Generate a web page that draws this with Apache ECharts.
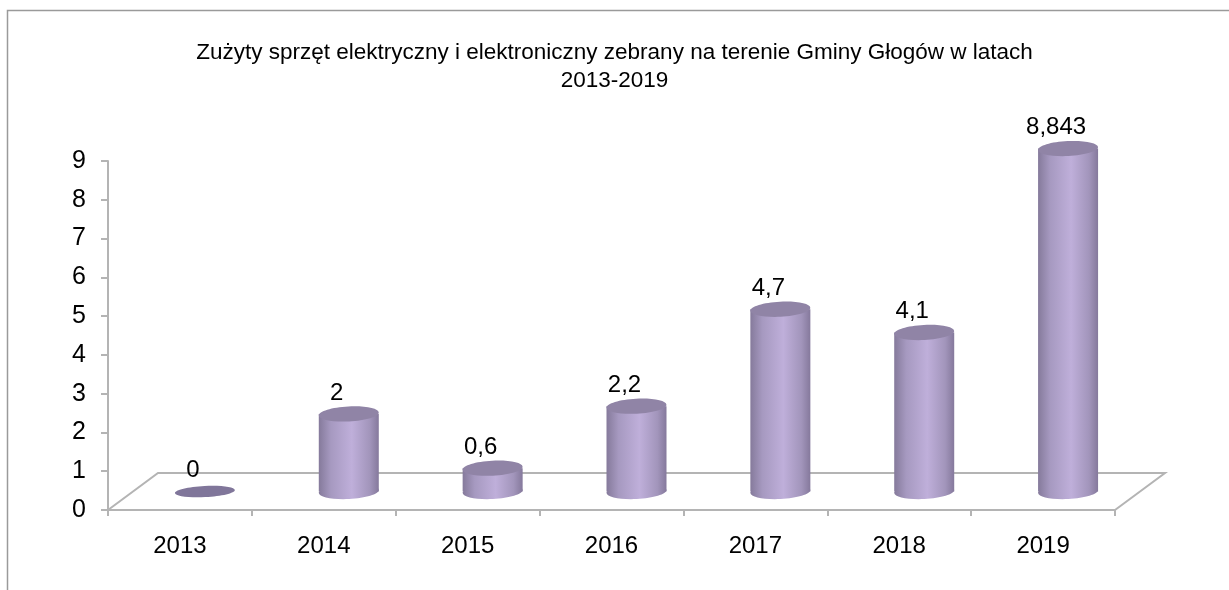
<!DOCTYPE html>
<html>
<head>
<meta charset="utf-8">
<script src="https://cdn.jsdelivr.net/npm/echarts@6/dist/echarts.min.js"></script>
<style>
  html, body { margin: 0; padding: 0; background: #fff; }
  #main { width: 1229px; height: 590px; }
</style>
</head>
<body>
<div id="main"></div>
<script>
// dane
const years = ['2013', '2014', '2015', '2016', '2017', '2018', '2019']
const values = [0, 2, 0.6, 2.2, 4.7, 4.1, 8.843]
const yTicks = { min: 0, max: 9, interval: 1 }

const labelFont = '"Liberation Sans", Arial, sans-serif'
const depthX = 50   // przesuniecie "glebokosci" podlogi
const depthY = -37

const chartBox = echarts.init(document.getElementById('main'))

// cylinder 3D
const renderCylinder = function (params, api) {
  const idx = api.value(0)
  const val = api.value(1)
  const base = api.coord([idx, 0])
  const top = api.coord([idx, val])
  const cx = base[0] + depthX / 2
  const by = base[1] + depthY / 2
  const ty = top[1] + depthY / 2
  const rx = 30
  const ry = 7.5
  const tilt = 0.05
  const children = []
  const bodyFill = new echarts.graphic.LinearGradient(0, 0, 1, 0, [
    { offset: 0, color: '#857a9b' },
    { offset: 0.2, color: '#a699c0' },
    { offset: 0.55, color: '#bfafda' },
    { offset: 0.85, color: '#a295bb' },
    { offset: 1, color: '#85799c' }
  ])
  if (val > 0) {
    children.push({
      type: 'ellipse',
      shape: { cx: cx, cy: by, rx: rx, ry: ry },
      rotation: tilt, originX: cx, originY: by,
      style: { fill: bodyFill }
    })
    children.push({
      type: 'rect',
      shape: { x: cx - rx, y: ty, width: rx * 2, height: by - ty },
      style: { fill: bodyFill }
    })
    children.push({
      type: 'ellipse',
      shape: { cx: cx, cy: ty, rx: rx, ry: ry },
      rotation: tilt, originX: cx, originY: ty,
      style: { fill: '#9084a6' }
    })
  } else {
    children.push({
      type: 'ellipse',
      shape: { cx: cx, cy: by, rx: rx, ry: ry * 0.75 },
      rotation: tilt, originX: cx, originY: by,
      style: { fill: '#80769a' }
    })
  }
  children.push({
    type: 'text',
    style: {
      x: cx - 12,
      y: ty - 21,
      text: String(val).replace('.', ','),
      align: 'center',
      verticalAlign: 'middle',
      fontFamily: labelFont,
      fontSize: 24,
      fill: '#000'
    }
  })
  return { type: 'group', children: children }
}

// podloga (rownoleglobok)
const renderFloor = function (params, api) {
  const c0 = api.coord([0, 0])
  const band = api.size([1, 0])[0]
  const x0 = c0[0] - band / 2
  const x1 = x0 + band * years.length
  const y0 = c0[1]
  return {
    type: 'polyline',
    shape: {
      points: [
        [x0, y0],
        [x0 + depthX, y0 + depthY],
        [x1 + depthX, y0 + depthY],
        [x1, y0]
      ]
    },
    style: { stroke: '#b4b4b4', lineWidth: 2, fill: null }
  }
}

const option = {
  animation: false,
  backgroundColor: '#fff',
  title: {
    text: 'Zużyty sprzęt elektryczny i elektroniczny zebrany na terenie Gminy Głogów w latach\n2013-2019',
    left: 'center',
    top: 34,
    textStyle: {
      fontFamily: '"Liberation Sans", Arial, sans-serif',
      fontSize: 22.5,
      fontWeight: 'normal',
      color: '#000',
      lineHeight: 28
    }
  },
  graphic: [
    {
      type: 'rect',
      shape: { x: 7.5, y: 10.5, width: 1300, height: 700 },
      style: { fill: null, stroke: '#9a9a9a', lineWidth: 1.5 },
      silent: true
    }
  ],
  grid: {
    left: 108,
    right: 114,
    top: 161,
    bottom: 80
  },
  xAxis: {
    type: 'category',
    data: years,
    axisLine: { show: true, lineStyle: { color: '#b4b4b4', width: 2 } },
    axisTick: { show: true, length: 6, lineStyle: { color: '#b4b4b4', width: 2 } },
    axisLabel: {
      color: '#000',
      fontFamily: labelFont,
      fontSize: 24,
      margin: 24
    }
  },
  yAxis: {
    type: 'value',
    min: yTicks.min,
    max: yTicks.max,
    interval: yTicks.interval,
    splitLine: { show: false },
    axisLine: { show: true, lineStyle: { color: '#b4b4b4', width: 2 } },
    axisTick: { show: true, length: 7, lineStyle: { color: '#b4b4b4', width: 2 } },
    axisLabel: {
      color: '#000',
      fontFamily: labelFont,
      fontSize: 25,
      margin: 22
    }
  },
  series: [
    {
      type: 'custom',
      renderItem: renderFloor,
      data: [[0, 0]],
      z: 1,
      silent: true
    },
    {
      type: 'custom',
      renderItem: renderCylinder,
      data: values.map(function (v, i) { return [i, v] }),
      z: 2
    }
  ]
}
chartBox.setOption(option)
window.addEventListener('resize', function () {
  chartBox.resize()
})
</script>
</body>
</html>
